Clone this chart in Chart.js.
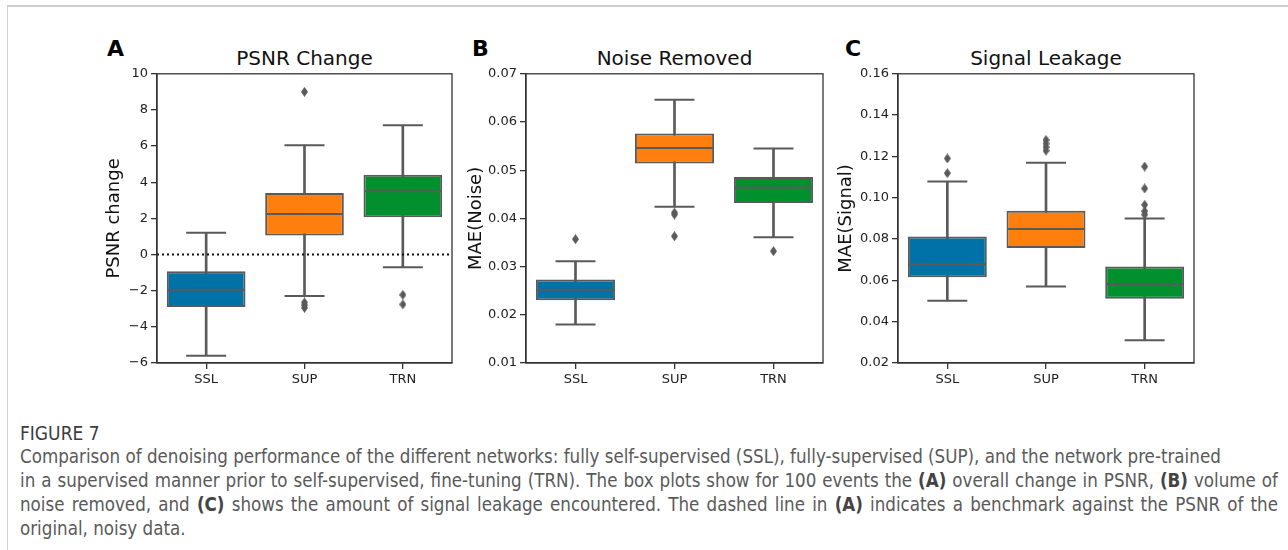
<!DOCTYPE html>
<html>
<head>
<meta charset="utf-8">
<script src="https://cdn.jsdelivr.net/npm/chart.js@4.4.0/dist/chart.umd.min.js"></script>
<style>
  body { margin: 0; width: 1288px; height: 550px; background: #fff; position: relative; overflow: hidden; font-family: "DejaVu Sans", sans-serif; }
  .frame { position: absolute; left: 7px; top: 5px; right: 0; bottom: 0; border-left: 1px solid #d0d0d0; border-top: 2px solid #cfcfcf; }
  .panel { position: absolute; }
  .letter { position: absolute; font-weight: bold; font-size: 22px; line-height: 22px; color: #000; }
  .ptitle { position: absolute; text-align: center; font-size: 20px; line-height: 24px; color: #111; }
  .caption { position: absolute; left: 20px; top: 421px; width: 1258px; color: #5a5a5a; font-family: "DejaVu Sans Condensed", "DejaVu Sans", sans-serif; font-stretch: condensed; }
  .caption .fig { font-size: 19px; line-height: 24px; color: #3c3c3c; }
  .caption .ln { font-size: 18.6px; line-height: 24px; white-space: nowrap; }
  .caption .just { text-align: justify; text-align-last: justify; }
  .caption b { color: #444; }
</style>
</head>
<body>
<div class="frame"></div>

<div class="letter" style="left:107px; top:38px;">A</div>
<div class="letter" style="left:472px; top:38px;">B</div>
<div class="letter" style="left:845px; top:38px;">C</div>

<div class="ptitle" style="left:157px; width:295px; top:46px;">PSNR Change</div>
<div class="ptitle" style="left:526px; width:297px; top:46px;">Noise Removed</div>
<div class="ptitle" style="left:898px; width:296px; top:46px;">Signal Leakage</div>

<div class="panel" style="left:100px; top:63px; width:355px; height:332px;"><canvas id="chartA"></canvas></div>
<div class="panel" style="left:462px; top:63px; width:364px; height:332px;"><canvas id="chartB"></canvas></div>
<div class="panel" style="left:832px; top:63px; width:365px; height:332px;"><canvas id="chartC"></canvas></div>

<div class="caption">
  <div class="fig">FIGURE 7</div>
  <div class="ln">Comparison of denoising performance of the different networks: fully self-supervised (SSL), fully-supervised (SUP), and the network pre-trained</div>
  <div class="ln just">in a supervised manner prior to self-supervised, fine-tuning (TRN). The box plots show for 100 events the <b>(A)</b> overall change in PSNR, <b>(B)</b> volume of</div>
  <div class="ln just">noise removed, and <b>(C)</b> shows the amount of signal leakage encountered. The dashed line in <b>(A)</b> indicates a benchmark against the PSNR of the</div>
  <div class="ln">original, noisy data.</div>
</div>

<script>
// Categories (networks)
const categories = ['SSL', 'SUP', 'TRN'];

// A: PSNR change
const psnrLow = [-5.6, -2.3, -0.7];
const psnrQ1 = [-2.9, 1.05, 2.06];
const psnrMedian = [-1.95, 2.25, 3.5];
const psnrQ3 = [-0.92, 3.4, 4.41];
const psnrHigh = [1.2, 6.05, 7.15];
const psnrOutliers = [[], [9.0, -2.65, -2.8, -2.95], [-2.23, -2.76]];
const psnrTicks = [-6, -4, -2, 0, 2, 4, 6, 8, 10];
const psnrBaseline = 0;

// B: noise removed, MAE(Noise)
const noiseLow = [0.018, 0.0424, 0.0361];
const noiseQ1 = [0.023, 0.0514, 0.0432];
const noiseMedian = [0.0252, 0.0546, 0.0464];
const noiseQ3 = [0.0273, 0.0576, 0.0486];
const noiseHigh = [0.0311, 0.0646, 0.0545];
const noiseOutliers = [[0.0357], [0.0412, 0.0408, 0.0363], [0.0332]];
const noiseTicks = [0.01, 0.02, 0.03, 0.04, 0.05, 0.06, 0.07];

// C: signal leakage, MAE(Signal)
const signalLow = [0.0501, 0.057, 0.031];
const signalQ1 = [0.0615, 0.0757, 0.0511];
const signalMedian = [0.0678, 0.0849, 0.0583];
const signalQ3 = [0.0812, 0.0937, 0.0667];
const signalHigh = [0.1079, 0.1169, 0.09];
const signalOutliers = [[0.119, 0.1119], [0.128, 0.1262, 0.1245, 0.1228], [0.1151, 0.1045, 0.0966, 0.0935, 0.0918]];
const signalTicks = [0.02, 0.04, 0.06, 0.08, 0.10, 0.12, 0.14, 0.16];

// Styles
const boxColors = ['#0072a8', '#ff7f0e', '#00902e'];
const lineGray = '#5a5a5a';
const axisColor = '#333';
const fontFamily = '"DejaVu Sans", sans-serif';

// seaborn-like thin diamond marker
function makeDiamond() {
    const c = document.createElement('canvas');
    c.width = 7;
    c.height = 10;
    const g = c.getContext('2d');
    g.fillStyle = lineGray;
    g.beginPath();
    g.moveTo(3.5, 0);
    g.lineTo(7, 5);
    g.lineTo(3.5, 10);
    g.lineTo(0, 5);
    g.closePath();
    g.fill();
    return c;
}
const diamond = makeDiamond();

// spines on all four sides, plus optional dotted reference line
const framePlugin = {
    id: 'frame',
    afterDatasetsDraw(chart, args, opts) {
        const { ctx, chartArea: a } = chart;
        ctx.save();
        if (opts.refLine !== undefined && opts.refLine !== null) {
            const y = chart.scales.y.getPixelForValue(opts.refLine);
            ctx.strokeStyle = '#111';
            ctx.lineWidth = 2;
            ctx.setLineDash([2, 3]);
            ctx.beginPath();
            ctx.moveTo(a.left, y);
            ctx.lineTo(a.right, y);
            ctx.stroke();
            ctx.setLineDash([]);
        }
        ctx.strokeStyle = axisColor;
        ctx.lineWidth = 1.3;
        ctx.strokeRect(a.left, a.top, a.width, a.height);
        ctx.restore();
    }
};

function createBoxChart(canvasId, p) {
    const ctx = document.getElementById(canvasId).getContext('2d');
    const capPoints = [];
    categories.forEach((c, i) => {
        capPoints.push({ x: c, y: p.low[i] });
        capPoints.push({ x: c, y: p.high[i] });
    });
    const outlierPoints = [];
    categories.forEach((c, i) => {
        p.outliers[i].forEach(v => outlierPoints.push({ x: c, y: v }));
    });

    return new Chart(ctx, {
        type: 'bar',
        data: {
            labels: categories,
            datasets: [
                {
                    // whiskers
                    type: 'bar',
                    data: categories.map((c, i) => [p.low[i], p.high[i]]),
                    backgroundColor: lineGray,
                    barThickness: 2,
                    grouped: false,
                    order: 4
                },
                {
                    // boxes
                    type: 'bar',
                    data: categories.map((c, i) => [p.q1[i], p.q3[i]]),
                    backgroundColor: boxColors,
                    borderColor: lineGray,
                    borderWidth: 2,
                    borderSkipped: false,
                    barPercentage: 0.8,
                    categoryPercentage: 1,
                    grouped: false,
                    order: 3
                },
                {
                    // whisker caps
                    type: 'scatter',
                    data: capPoints,
                    pointStyle: 'line',
                    radius: 20,
                    borderColor: lineGray,
                    borderWidth: 2,
                    order: 2
                },
                {
                    // medians
                    type: 'scatter',
                    data: categories.map((c, i) => ({ x: c, y: p.median[i] })),
                    pointStyle: 'line',
                    radius: 38.5,
                    borderColor: lineGray,
                    borderWidth: 2,
                    order: 1
                },
                {
                    // fliers
                    type: 'scatter',
                    data: outlierPoints,
                    pointStyle: diamond,
                    order: 0
                }
            ]
        },
        options: {
            responsive: true,
            maintainAspectRatio: false,
            animation: false,
            events: [],
            layout: { autoPadding: false, padding: { top: 10, right: 3, left: 0, bottom: 0 } },
            plugins: {
                legend: { display: false },
                tooltip: { enabled: false },
                frame: { refLine: p.refLine }
            },
            scales: {
                x: {
                    type: 'category',
                    offset: true,
                    grid: { offset: false, drawOnChartArea: false, drawTicks: true, tickLength: 6, color: axisColor, lineWidth: 1.3 },
                    border: { color: axisColor, width: 1.3 },
                    ticks: { color: '#222', padding: 3, font: { family: fontFamily, size: 13 } },
                    afterFit: s => { s.height = 32; }
                },
                y: {
                    min: p.ticks[0],
                    max: p.ticks[p.ticks.length - 1],
                    afterBuildTicks: s => { s.ticks = p.ticks.map(v => ({ value: v })); },
                    grid: { drawOnChartArea: false, drawTicks: true, tickLength: 6, color: axisColor, lineWidth: 1.3 },
                    border: { color: axisColor, width: 1.3 },
                    ticks: { color: '#222', padding: 3, font: { family: fontFamily, size: 13 }, callback: p.fmt },
                    title: { display: true, text: p.yTitle, color: '#111', font: { family: fontFamily, size: 18 }, padding: { top: 4, bottom: 4 } },
                    afterFit: s => { s.width = p.yWidth; }
                }
            }
        },
        plugins: [framePlugin]
    });
}

const fmtInt = v => (v < 0 ? '\u2212' + (-v) : String(v));
const fmt2 = v => Number(v).toFixed(2);

createBoxChart('chartA', {
    low: psnrLow, q1: psnrQ1, median: psnrMedian, q3: psnrQ3, high: psnrHigh,
    outliers: psnrOutliers, ticks: psnrTicks, fmt: fmtInt,
    yTitle: 'PSNR change', yWidth: 57, refLine: psnrBaseline
});
createBoxChart('chartB', {
    low: noiseLow, q1: noiseQ1, median: noiseMedian, q3: noiseQ3, high: noiseHigh,
    outliers: noiseOutliers, ticks: noiseTicks, fmt: fmt2,
    yTitle: 'MAE(Noise)', yWidth: 64, refLine: null
});
createBoxChart('chartC', {
    low: signalLow, q1: signalQ1, median: signalMedian, q3: signalQ3, high: signalHigh,
    outliers: signalOutliers, ticks: signalTicks, fmt: fmt2,
    yTitle: 'MAE(Signal)', yWidth: 66, refLine: null
});
</script>
</body>
</html>
